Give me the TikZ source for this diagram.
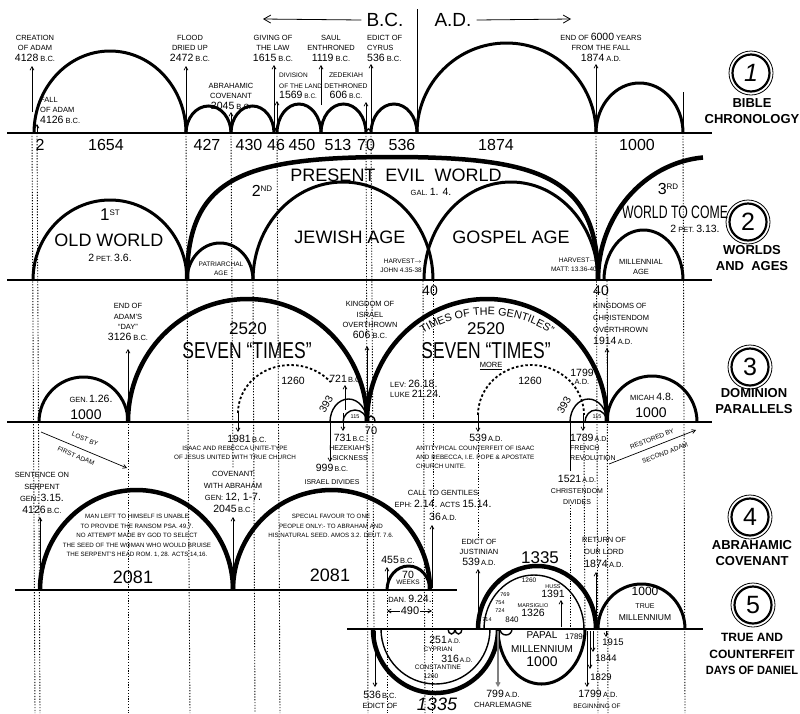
\documentclass[tikz,border=0pt]{standalone}
\usepackage{fontspec}
\setmainfont{Liberation Sans}
\usetikzlibrary{arrows.meta,decorations.text}
\newcommand\bn[1]{{\fontsize{10.5}{10}\selectfont #1}}
\newcommand\uarc[5][]{\draw[#1] (#2,#4) arc[start angle=180,end angle=0,x radius={((#3)-(#2))/2*1pt},y radius={(#5)*1pt}];}
\newcommand\darc[5][]{\draw[#1] (#2,#4) arc[start angle=180,end angle=360,x radius={((#3)-(#2))/2*1pt},y radius={(#5)*1pt}];}
\tikzset{
  axis/.style={line width=1.4pt},
  arcA/.style={line width=3pt},
  arcB/.style={line width=4.5pt},
  arcC/.style={line width=1.4pt},
  dasharc/.style={line width=1.8pt,dash pattern=on 2.5pt off 2.2pt},
  dots/.style={line width=0.9pt,dash pattern=on 1.2pt off 1.6pt},
  arr/.style={line width=0.7pt,-{Straight Barb[length=3.5pt,width=4pt]}},
  lbl/.style={font=\fontsize{7.5}{10.5}\selectfont,align=center,inner sep=0pt},
  lblF/.style={font=\fontsize{7.5}{11.8}\selectfont,align=center,inner sep=0pt},
  lblS/.style={font=\fontsize{6.5}{9}\selectfont,align=center,inner sep=0pt},
  num/.style={font=\fontsize{16}{16}\selectfont,inner sep=0pt},
  big/.style={font=\fontsize{18}{18}\selectfont,inner sep=0pt},
  ring/.style={circle,draw,line width=2.2pt,minimum size=37pt,inner sep=0pt,font=\fontsize{25}{25}\selectfont},
  sect/.style={font=\bfseries\fontsize{13}{15.5}\selectfont,align=center,inner sep=0pt},
}
\begin{document}
\begin{tikzpicture}[x=1pt,y=-1pt]
\useasboundingbox (0,0) rectangle (800,713);
\fill[white] (0,0) rectangle (800,713);

% ---------- dotted verticals ----------
\draw[dots] (32,133) -- (35,713);
\draw[dots] (37,133) -- (40,713);
\draw[dots] (128,424) -- (128,713);
\draw[dots] (186,133) -- (190,713);
\draw[dots] (231,133) -- (233,468);
\draw[dots] (253,282) -- (255,713);
\draw[dots] (277,133) -- (280,713);
\draw[dots] (366,133) -- (368,713);
\draw[dots] (371,133) -- (374,628);
\draw[dots] (423,281) -- (425,713);
\draw[dots] (433,281) -- (433,520);
\draw[dots] (432,592) -- (432,713);
\draw[dots] (478,442) -- (478,540);
\draw[dots] (596,133) -- (598,713);
\draw[dots] (607,281) -- (608,713);
\draw[dots] (683,133) -- (685,713);
\draw[dots] (570,505) -- (570,629);
\draw[dots] (584,440) -- (585,629);
\draw[dots] (387,592) -- (387,713);

% ---------- band 1 : Bible chronology ----------
\uarc[arcA]{34}{186}{133}{82}
\uarc[arcA]{186}{231}{133}{27}
\uarc[arcA]{231}{274}{133}{27}
\uarc[arcC]{274}{277}{133}{4}
\uarc[arcA]{277}{321}{133}{29}
\uarc[arcA]{321}{366}{133}{29}
\uarc[arcC]{366}{371}{133}{4}
\uarc[arcA]{371}{417}{133}{29}
\uarc[arcA]{417}{596}{133}{90}
\uarc[arcA]{596}{683}{133}{50}
\draw[axis] (7,133) -- (712,133);

\node[font=\fontsize{19}{19}\selectfont,inner sep=0pt] (bc) at (385,20) {B.C.};
\node[font=\fontsize{19}{19}\selectfont,inner sep=0pt] (ad) at (453,20) {A.D.};
\draw[line width=1pt] (417,9) -- (417,118);
\coordinate (bcl) at (263,19);
\coordinate (adr) at (571,19);
\draw[line width=0.8pt,-{Straight Barb[length=7pt,width=8pt]}] ([xshift=-5pt]bc.west) -- (bcl);
\draw[line width=0.8pt,-{Straight Barb[length=7pt,width=8pt]}] ([xshift=5pt]ad.east) -- (adr);

\node[num] (n2) at (40,145) {2};
\node[num] (n1654) at (106,145) {1654};
\node[num] (n427) at (207,145) {427};
\node[num] (n430) at (249,145) {430};
\node[num] (n46) at (276,145) {46};
\node[num] (n450) at (302,145) {450};
\node[num] (n513) at (338,145) {513};
\node[num] (n70) at (366,145) {70};
\node[num] (n536) at (402,145) {536};
\node[num] (n1874) at (496,145) {1874};
\node[num] (n1000) at (637,145) {1000};

\node[lbl] (creation) at (35,48) {CREATION\\OF ADAM\\\bn{4128} B.C.};
\node[lbl,align=left,anchor=west] (fall) at (40,110) {FALL\\OF ADAM\\\bn{4126} B.C.};
\node[lbl] (flood) at (190,48) {FLOOD\\DRIED UP\\\bn{2472} B.C.};
\node[lbl] (abrah) at (231,96) {ABRAHAMIC\\COVENANT\\\bn{2045} B.C.};
\node[lbl] (law) at (273,48) {GIVING OF\\THE LAW\\\bn{1615} B.C.};
\node[lbl,font=\fontsize{6.5}{10.5}\selectfont,align=left,anchor=west] (land) at (279,86) {DIVISION\\OF THE LAND\\\bn{1569} B.C.};
\node[lbl] (saul) at (331,48) {SAUL\\ENTHRONED\\\bn{1119} B.C.};
\node[lbl,font=\fontsize{6.8}{10.5}\selectfont] (zede) at (346,86) {ZEDEKIAH\\DETHRONED\\\bn{606} B.C.};
\node[lbl,align=left,anchor=west] (cyrus) at (367,48) {EDICT OF\\CYRUS\\\bn{536} B.C.};
\node[lbl] (end6000) at (601,47) {END OF \bn{6000} YEARS\\FROM THE FALL\\\bn{1874} A.D.};

\draw[arr] (32,112) -- (32,66);
\draw[arr] (37,133) -- (37,124);
\draw[arr] (186,124) -- (186,66);
\draw[arr] (231,130) -- (231,112);
\draw[arr] (274,130) -- (274,65);
\draw[arr] (277,130) -- (277,101);
\draw[arr] (321,105) -- (321,65);
\draw[arr] (366,130) -- (366,102);
\draw[arr] (371,131) -- (371,64);
\draw[arr] (596,125) -- (596,64);
\draw[line width=0.8pt] (683,92) -- (683,133);

\node[ring] (r1) at (751,73) {\itshape 1};
\draw[line width=0.8pt] (r1.center) circle[radius=22pt];
\node[sect] (t1) at (752,111) {BIBLE\\CHRONOLOGY};

% ---------- band 2 : worlds and ages ----------
\uarc[arcA]{33}{187}{280}{80}
\uarc[arcA]{187}{253}{280}{37}
\draw[arcB] (187,280) .. controls (187,178) and (242,157) .. (392,157) .. controls (542,157) and (598,178) .. (598,280);
\uarc[arcA]{253}{433}{280}{98}
\uarc[arcA]{424}{598}{280}{98}
\draw[arcB] (598,280) arc[start angle=180,end angle=95,x radius=115pt,y radius=123pt];
\uarc[arcA]{604}{683}{280}{50}
\draw[axis] (7,280) -- (712,280);

\node[inner sep=0pt] (first) at (110,215) {\fontsize{17}{17}\selectfont 1\raisebox{5pt}{\fontsize{8}{8}\selectfont ST}};
\node[big] (oldw) at (109,240) {OLD WORLD};
\node[lbl] (pet36) at (110,258) {\bn{2} PET. \bn{3.6.}};
\node[lblS] (patr) at (221,269) {PATRIARCHAL\\AGE};
\node[inner sep=0pt] (second) at (262,191) {\fontsize{16}{16}\selectfont 2\raisebox{5pt}{\fontsize{8}{8}\selectfont ND}};
\node[font=\fontsize{18}{18}\selectfont,inner sep=0pt] (pew) at (396,175) {PRESENT\ \ EVIL\ \ WORLD};
\node[lbl] (gal) at (431,192) {GAL. \bn{1. 4.}};
\node[big] (jew) at (350,237) {JEWISH AGE};
\node[lblS,align=right,anchor=east] (harv1) at (422,266) {HARVEST$\rightarrow$\\JOHN 4.35-38};
\node[big] (gos) at (511,237) {GOSPEL AGE};
\node[inner sep=0pt] (third) at (668,189) {\fontsize{16}{16}\selectfont 3\raisebox{5pt}{\fontsize{8}{8}\selectfont RD}};
\node[inner sep=0pt] (wtc) at (675,212) {\scalebox{0.68}[1]{\fontsize{18}{18}\selectfont WORLD TO COME}};
\node[lbl] (pet313) at (695,229) {\bn{2} PET. \bn{3.13.}};
\node[lblS,align=right,anchor=east] (harv2) at (597,265) {HARVEST$\rightarrow$\\MATT: 13.36-40};
\node[lbl] (mill) at (641,267) {MILLENNIAL\\AGE};
\node[num,font=\fontsize{14}{14}\selectfont] (f40a) at (430,291) {40};
\node[num,font=\fontsize{14}{14}\selectfont] (f40b) at (601,291) {40};

\node[ring] (r2) at (748,222) {2};
\draw[line width=0.8pt] (r2.center) circle[radius=22pt];
\node[sect] (t2) at (752,258) {WORLDS\\AND\ \ AGES};

% ---------- band 3 : dominion parallels ----------
\uarc[arcA]{39}{128}{422}{45}
\uarc[arcB]{128}{367}{422}{123}
\uarc[arcB]{367}{607}{422}{123}
\uarc[arcA]{607}{697}{422}{46}
\draw[dasharc] (238,413) arc[start angle=180,end angle=40,x radius=52.5pt,y radius=48pt];
\uarc[dasharc]{478}{584}{415}{50}
\uarc[arcC]{330}{367}{422}{23}
\uarc[arcC]{343}{367}{422}{12}
\uarc[arcC]{367}{375}{422}{6}
\uarc[arcC]{570}{607}{422}{23}
\uarc[arcC]{585}{607}{422}{12}
\draw[axis] (7,422) -- (712,422);

\node[lbl] (adamday) at (128,322) {END OF\\ADAM'S\\``DAY''\\\bn{3126} B.C.};
\draw[arr] (128,400) -- (128,349);
\node[font=\fontsize{17}{17}\selectfont,inner sep=0pt] (s2520a) at (248,329) {2520};
\node[inner sep=0pt] (seven1) at (247,351) {\scalebox{0.76}[1]{\fontsize{23}{23}\selectfont SEVEN ``TIMES''}};
\node[lbl] (gen126) at (91,399) {GEN.\,\bn{1.26.}};
\node[font=\fontsize{14}{14}\selectfont,inner sep=0pt] (k1000a) at (86,415) {1000};
\node[lbl] (israel) at (370,320) {KINGDOM OF\\ISRAEL\\OVERTHROWN\\\bn{606} B.C.};
\draw[arr] (367,414) -- (367,346);
\path[decorate,decoration={text along path,text align=center,text={|\fontsize{10.8}{10.8}\selectfont|TIMES OF THE GENTILES”}}]
  (414.4,340.0) arc[start angle=128,end angle=52,radius=118pt];
\node[font=\fontsize{17}{17}\selectfont,inner sep=0pt] (s2520b) at (486,329) {2520};
\node[inner sep=0pt] (seven2) at (486,351) {\scalebox{0.76}[1]{\fontsize{23}{23}\selectfont SEVEN ``TIMES''}};
\node[lbl] (more) at (491,366) {\underline{MORE}};
\node[lbl,align=left,anchor=west] (lev) at (390,389) {LEV: \bn{26.18.}\\LUKE \bn{21.24.}};
\node[lbl] (l1260a) at (293,381) {\bn{1260}};
\node[lbl] (l721) at (346,379) {\bn{721}\,B.C.};
\draw[arr] (345,410) -- (345,385);
\node[lbl,rotate=60] (l393a) at (326,404) {\bn{393}};
\node[font=\fontsize{5.5}{5.5}\selectfont,inner sep=0pt] (l115a) at (355,417) {115};
\node[font=\fontsize{11}{11}\selectfont,inner sep=0pt] (l70) at (371,431) {70};
\node[lbl] (l1260b) at (530,381) {\bn{1260}};
\node[lbl] (l1799) at (582,377) {\bn{1799}\\[-3pt]A.D.};
\node[lbl,rotate=60] (l393b) at (564,405) {\bn{393}};
\node[font=\fontsize{5.5}{5.5}\selectfont,inner sep=0pt] (l115b) at (597,417) {115};
\node[lbl] (micah) at (652,397) {MICAH \bn{4.8.}};
\node[font=\fontsize{14}{14}\selectfont,inner sep=0pt] (k1000b) at (651,413) {1000};
\node[lblF,align=left,anchor=west] (christ) at (593,324) {KINGDOMS OF\\CHRISTENDOM\\OVERTHROWN\\\bn{1914}\,A.D.};
\draw[arr] (607,414) -- (607,348);

\node[ring] (r3) at (750,367) {3};
\draw[line width=0.8pt] (r3.center) circle[radius=22pt];
\node[sect] (t3) at (754,401) {DOMINION\\PARALLELS};

% ---------- between bands 3 and 4 ----------
\coordinate (lostS) at (41,432);
\coordinate (lostE) at (127,468);
\draw[arr] (lostS) -- (lostE);
\node[lblS,rotate=-23] (lost) at (85,439) {LOST BY};
\node[lblS,rotate=-23] (fadam) at (76,456) {FIRST ADAM};
\coordinate (restS) at (609,464);
\coordinate (restE) at (696,430);
\draw[arr] (restS) -- (restE);
\node[lblS,rotate=21] (restby) at (652,439) {RESTORED BY};
\node[lblS,rotate=21] (secadam) at (665,453) {SECOND ADAM};

\node[lbl] (l1981) at (247,439) {\bn{1981}\,B.C.};
\draw[arr] (238,413) -- (238,432);
\node[lblS,font=\fontsize{6.3}{8.5}\selectfont] (isaac) at (235,453) {ISAAC AND REBECCA UNITE-TYPE\\OF JESUS UNITED WITH TRUE CHURCH};
\node[lbl,font=\fontsize{7}{9.5}\selectfont] (l731) at (350,447) {\bn{731}\,B.C.\\HEZEKIAH'S\\SICKNESS};
\draw[arr] (343,413) -- (343,431);
\node[lbl,font=\fontsize{7}{13}\selectfont] (l999) at (332,474) {\bn{999}\,B.C.\\ISRAEL DIVIDES};
\draw[arr] (330,423) -- (330,462);
\node[lbl] (l539) at (486,438) {\bn{539}\,A.D.};
\draw[arr] (478,415) -- (478,432);
\node[lblS,font=\fontsize{6.3}{9}\selectfont,align=left,anchor=west] (antit) at (416,457) {ANTITYPICAL COUNTERFEIT OF ISAAC\\AND REBECCA, I.E. POPE \& APOSTATE\\CHURCH UNITE.};
\node[lbl,font=\fontsize{7}{9.5}\selectfont,align=left,anchor=west] (l1789) at (570,447) {\bn{1789}\,A.D.\\FRENCH\\REVOLUTION};
\draw[arr] (583,413) -- (583,431);
\node[lbl,font=\fontsize{7}{11}\selectfont] (l1521) at (577,490) {\bn{1521}\,A.D.\\CHRISTENDOM\\DIVIDES};
\draw[line width=0.7pt] (570,422) -- (570,471);
\node[lbl,font=\fontsize{7.5}{12.5}\selectfont] (call) at (443,505) {CALL TO GENTILES\\EPH: \bn{2.14.} ACTS \bn{15.14.}\\\bn{36}\,A.D.};
\draw[arr] (432,588) -- (432,525);

% ---------- band 4 : Abrahamic covenant ----------
\uarc[arcB]{40}{233}{590}{100}
\uarc[arcB]{233}{430}{590}{100}
\uarc[arcA]{387}{430}{590}{24}
\draw[axis] (15,590) -- (457,590);

\node[lblF] (serp) at (42,493) {SENTENCE ON\\SERPENT\\GEN: \bn{3.15.}\\\bn{4126}\,B.C.};
\draw[arr] (40,588) -- (40,517);
\node[lblF] (cov) at (233,492) {COVENANT\\WITH ABRAHAM\\GEN: \bn{12, 1-7.}\\\bn{2045}\,B.C.};
\draw[arr] (233,586) -- (233,517);
\node[font=\fontsize{6.2}{9.6}\selectfont,align=center,inner sep=0pt] (man) at (137,536) {MAN LEFT TO HIMSELF IS UNABLE\\TO PROVIDE THE RANSOM PSA. 49,7.\\NO ATTEMPT MADE BY GOD TO SELECT\\THE SEED OF THE WOMAN WHO WOULD BRUISE\\THE SERPENT'S HEAD ROM. 1, 28. ACTS 14,16.};
\node[font=\fontsize{18}{18}\selectfont,inner sep=0pt] (n2081a) at (133,577) {2081};
\node[font=\fontsize{6.2}{9.5}\selectfont,align=center,inner sep=0pt] (spec) at (331,526) {SPECIAL FAVOUR TO ONE\\PEOPLE ONLY:- TO ABRAHAM AND\\HIS NATURAL SEED. AMOS 3.2. DEUT. 7.6.};
\node[font=\fontsize{18}{18}\selectfont,inner sep=0pt] (n2081b) at (330,575) {2081};
\node[lbl] (l455) at (398,560) {\bn{455}\,B.C.};
\draw[arr] (387,590) -- (387,567);
\node[lblS] (weeks) at (408,578) {\bn{70}\\[-3pt]WEEKS};
\node[lbl] (dan) at (410,599) {DAN. \bn{9.24.}};
\node[font=\fontsize{11}{11}\selectfont,inner sep=1pt] (d490) at (410,611) {490};
\draw[arr] (d490.west) -- (387,611);
\draw[arr] (d490.east) -- (432,611);

\node[ring] (r4) at (750,517) {4};
\draw[line width=0.8pt] (r4.center) circle[radius=22pt];
\node[sect] (t4) at (752,553) {ABRAHAMIC\\COVENANT};

% ---------- band 5 : true and counterfeit days ----------
\darc[arcB]{373}{498}{629}{64}
\darc[arcC]{381}{490}{629}{55}
\uarc[arcB]{478}{596}{629}{63}
\uarc[arcC]{484}{584}{629}{54}
\darc[arcA]{498}{585}{629}{55}
\uarc[arcA]{598}{685}{629}{45}
\darc[arcC]{448}{455}{629}{5}
\darc[arcC]{455}{462}{629}{5}
\darc[arcC]{500}{512}{629}{6}
\draw[axis] (347,629) -- (703,629);

\node[lbl] (just) at (479,552) {EDICT OF\\JUSTINIAN\\\bn{539}\,A.D.};
\draw[arr] (478,627) -- (478,569);
\node[font=\fontsize{17}{17}\selectfont,inner sep=0pt] (t1335) at (540,558) {1335};
\node[lblS] (t1260) at (529,580) {1260};
\node[lblS,font=\fontsize{5.5}{9}\selectfont] (huss) at (553,591) {HUSS\\\bn{1391}};
\draw[arr] (561,627) -- (561,600);
\node[lblS,font=\fontsize{5.5}{9}\selectfont] (mars) at (533,610) {MARSIGLIO\\\bn{1326}};
\node[font=\fontsize{5.5}{5.5}\selectfont,inner sep=0pt] (y769) at (505,595) {769};
\node[font=\fontsize{5.5}{5.5}\selectfont,inner sep=0pt] (y754) at (500,603) {754};
\node[font=\fontsize{5.5}{5.5}\selectfont,inner sep=0pt] (y724) at (500,611) {724};
\node[font=\fontsize{5.5}{5.5}\selectfont,inner sep=0pt] (y714) at (487,620) {714};
\node[font=\fontsize{8}{8}\selectfont,inner sep=0pt] (y840) at (512,620) {840};
\node[font=\fontsize{8}{8}\selectfont,inner sep=0pt] (y1789) at (574,637) {1789};
\node[font=\fontsize{9.5}{9.5}\selectfont,inner sep=0pt] (y1915) at (613,642) {1915};
\node[font=\fontsize{9.5}{9.5}\selectfont,inner sep=0pt] (y1844) at (606,658) {1844};
\node[font=\fontsize{9.5}{9.5}\selectfont,inner sep=0pt] (y1829) at (601,677) {1829};
\node[lbl] (y1799) at (598,694) {\bn{1799}\,A.D.};
\node[lblS] (begin) at (597,706) {BEGINNING OF};
\draw[arr] (587,631) -- (587,687);
\draw[arr] (590,631) -- (590,669);
\draw[arr] (593,631) -- (593,652);
\draw[arr] (606,631) -- (606,637);

\node[lbl] (edict536) at (380,700) {\bn{536}\,B.C.\\EDICT OF};
\draw[arr] (375,631) -- (375,687);
\node[lblS] (l251) at (445,640) {\bn{251}\,A.D.};
\node[lblS] (cypr) at (438,649) {CYPRIAN};
\node[lblS] (l316) at (457,659) {\bn{316}\,A.D.};
\node[lblS] (const) at (438,667) {CONSTANTINE};
\node[lblS] (l1260c) at (431,676) {1260};
\node[font=\fontsize{18}{18}\selectfont\itshape,inner sep=0pt] (b1335) at (437,704) {1335};
\node[lbl] (charl) at (503,699) {\bn{799}\,A.D.\\CHARLEMAGNE};
\draw[arr,line width=1.2pt,gray] (498,631) -- (498,687);
\node[lbl,font=\fontsize{7.5}{12.5}\selectfont] (retlord) at (604,552) {RETURN OF\\OUR LORD\\\bn{1874}\,A.D.};
\draw[arr] (596,620) -- (596,572);
\node[font=\fontsize{8.5}{12.5}\selectfont,align=center,inner sep=0pt] (truem) at (645,604) {{\fontsize{12}{12}\selectfont 1000}\\{\fontsize{7}{7}\selectfont TRUE}\\MILLENNIUM};
\node[font=\fontsize{10}{14}\selectfont,align=center,inner sep=0pt] (papal) at (542,649) {PAPAL\\MILLENNIUM\\{\fontsize{14}{14}\selectfont 1000}};

\node[ring] (r5) at (753,605) {5};
\draw[line width=0.8pt] (r5.center) circle[radius=22pt];
\node[sect,font=\bfseries\fontsize{12}{16.5}\selectfont] (t5) at (752,654) {TRUE AND\\COUNTERFEIT\\\scalebox{0.92}[1]{DAYS OF DANIEL}};
\end{tikzpicture}
\end{document}
